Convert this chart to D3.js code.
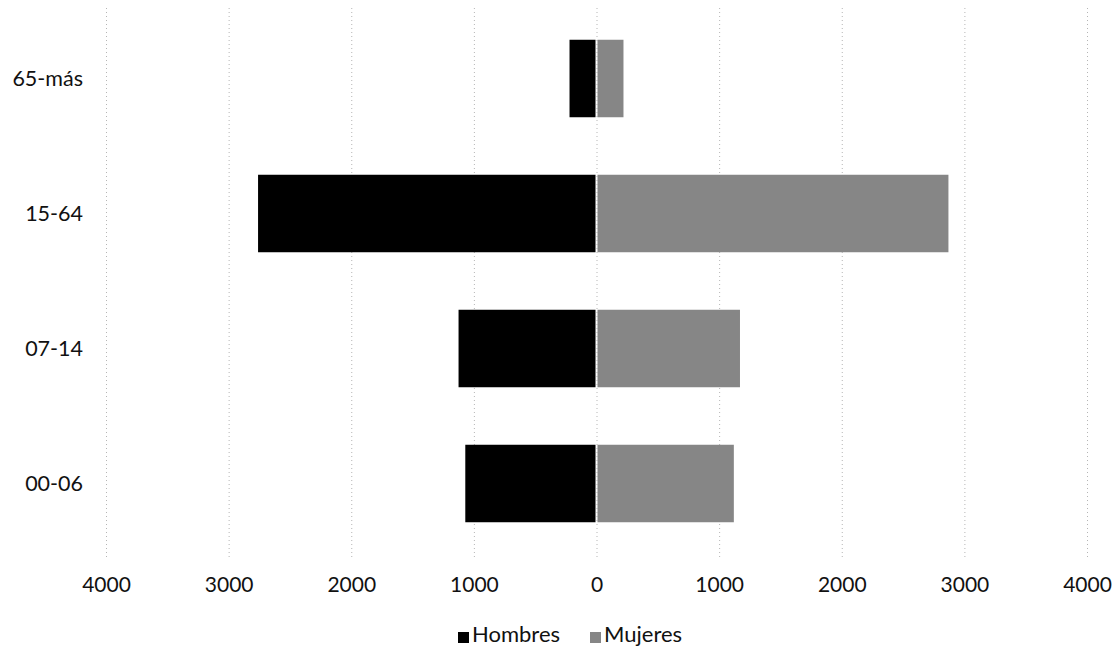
<!DOCTYPE html>
<html>
<head>
<meta charset="utf-8">
<script src="https://cdn.jsdelivr.net/npm/d3@7"></script>
<style>
	body { margin: 0; background: #fff; }
	svg { display: block; font-family: Lato, "Open Sans", sans-serif; }
	.axis text { font-size: 21px; fill: #111; }
	.y.axis text { font-size: 21.5px; }
	.axis path, .axis line { display: none; }
	.grid line { stroke: #b5b5b5; stroke-width: 1; stroke-dasharray: 1,3; }
	.legend text { font-size: 22px; fill: #111; }
</style>
</head>
<body>
<div id="chart"></div>
<script>
// age groups, top to bottom
var categories = ["65-más", "15-64", "07-14", "00-06"];
var hombres = [220, 2760, 1125, 1070];
var mujeres = [220, 2870, 1170, 1120];
var tickValues = [-4000, -3000, -2000, -1000, 0, 1000, 2000, 3000, 4000];
var seriesNames = ["Hombres", "Mujeres"];
var seriesColors = ["#000000", "#868686"];

var width = 1113,
	height = 646;

var svg = d3.select("#chart").append("svg")
	.attr("width", width)
	.attr("height", height);

// scales: hombres go left (negative), mujeres right
var x = d3.scaleLinear()
	.domain([-4000, 4000])
	.range([106, 1087]);

var y = d3.scaleBand()
	.domain(categories)
	.range([11, 551])
	.paddingInner(0.426)
	.paddingOuter(0.213);

// dotted vertical gridlines
svg.append("g")
	.attr("class", "grid")
	.selectAll("line")
	.data(tickValues)
	.enter().append("line")
	.attr("x1", function(d) { return x(d) + 0.5; })
	.attr("x2", function(d) { return x(d) + 0.5; })
	.attr("y1", 8)
	.attr("y2", 558);

// bars
var bars = svg.append("g").attr("class", "bars");

bars.selectAll("rect.h")
	.data(categories)
	.enter().append("rect")
	.attr("class", "h")
	.attr("x", function(d, i) { return x(-hombres[i]); })
	.attr("y", function(d) { return y(d); })
	.attr("width", function(d, i) { return x(0) - x(-hombres[i]) - 1; })
	.attr("height", y.bandwidth())
	.attr("fill", seriesColors[0]);

bars.selectAll("rect.m")
	.data(categories)
	.enter().append("rect")
	.attr("class", "m")
	.attr("x", x(0) + 1)
	.attr("y", function(d) { return y(d); })
	.attr("width", function(d, i) { return x(mujeres[i]) - x(0) - 1; })
	.attr("height", y.bandwidth())
	.attr("fill", seriesColors[1]);

// x axis, labels without sign
svg.append("g")
	.attr("class", "x axis")
	.attr("transform", "translate(0,592)")
	.call(d3.axisBottom(x)
		.tickValues(tickValues)
		.tickSize(0)
		.tickPadding(0)
		.tickFormat(function(d) { return Math.abs(d); }))
	.attr("font-family", null)
	.attr("font-size", null)
	.selectAll("text")
	.attr("dy", 0);

// category labels
svg.append("g")
	.attr("class", "y axis")
	.attr("transform", "translate(83,1)")
	.call(d3.axisLeft(y).tickSize(0).tickPadding(0))
	.attr("font-family", null)
	.attr("font-size", null);

// legend
var legend = svg.append("g")
	.attr("class", "legend")
	.attr("transform", "translate(458,642)");

var lx = [0, 132];
seriesNames.forEach(function(name, i) {
	var g = legend.append("g").attr("transform", "translate(" + lx[i] + ",0)");
	g.append("rect")
		.attr("x", 0)
		.attr("y", -10)
		.attr("width", 11)
		.attr("height", 11)
		.attr("fill", seriesColors[i]);
	g.append("text")
		.attr("x", 14)
		.attr("y", 0)
		.text(name);
});
</script>
</body>
</html>
